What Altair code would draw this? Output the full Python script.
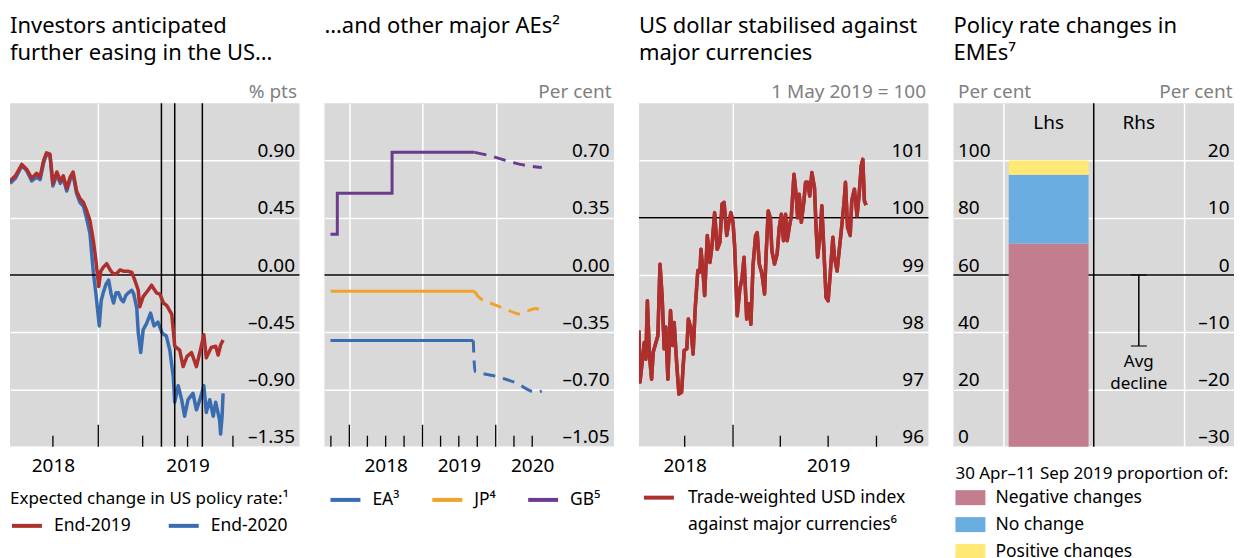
import altair as alt
import pandas as pd

FONT = "Noto Sans"
RED = "#AD2F2E"
BLUE = "#3A6CB2"
ORANGE = "#F0A22C"
PURPLE = "#6C3B8D"
PINK = "#C27D8E"
LBLUE = "#6AADE0"
YELLOW = "#FFE873"
BG = "#D9D9D9"
GREY = "#808080"

# ---------------- Panel 1: expected change in US policy rate ----------------
us19_dates = ["2018-07-06", "2018-07-17", "2018-07-30", "2018-08-09", "2018-08-19", "2018-08-29",
              "2018-09-05", "2018-09-12", "2018-09-18", "2018-09-25", "2018-10-01", "2018-10-09",
              "2018-10-16", "2018-10-22", "2018-10-29", "2018-11-05", "2018-11-11", "2018-11-18",
              "2018-11-25", "2018-12-02", "2018-12-08", "2018-12-15", "2018-12-22", "2018-12-27",
              "2019-01-02", "2019-01-06", "2019-01-11", "2019-01-18", "2019-01-25", "2019-01-31",
              "2019-02-07", "2019-02-14", "2019-02-21", "2019-03-02", "2019-03-10", "2019-03-16",
              "2019-03-23", "2019-03-26", "2019-04-02", "2019-04-12", "2019-04-19", "2019-04-29",
              "2019-05-06", "2019-05-13", "2019-05-20", "2019-05-30", "2019-06-05", "2019-06-15",
              "2019-06-22", "2019-06-30", "2019-07-09", "2019-07-19", "2019-07-27", "2019-08-03",
              "2019-08-08", "2019-08-18", "2019-08-27", "2019-09-01", "2019-09-06", "2019-09-11"]
us19_vals = [0.74, 0.78, 0.87, 0.83, 0.76, 0.80, 0.77, 0.90, 0.96, 0.95, 0.72, 0.81,
             0.74, 0.78, 0.68, 0.77, 0.81, 0.66, 0.60, 0.57, 0.51, 0.43, 0.27, 0.12,
             -0.09, 0.03, 0.06, 0.09, 0.04, 0.01, 0.01, 0.04, 0.03, 0.03, 0.02, -0.04,
             -0.12, -0.25, -0.17, -0.12, -0.08, -0.14, -0.15, -0.22, -0.24, -0.31, -0.56, -0.59,
             -0.72, -0.64, -0.61, -0.72, -0.59, -0.47, -0.65, -0.57, -0.56, -0.63, -0.55, -0.51]

us20_dates = ["2018-07-06", "2018-07-17", "2018-07-30", "2018-08-09", "2018-08-19", "2018-08-29",
              "2018-09-05", "2018-09-12", "2018-09-18", "2018-09-25", "2018-10-01", "2018-10-09",
              "2018-10-16", "2018-10-22", "2018-10-29", "2018-11-05", "2018-11-11", "2018-11-18",
              "2018-11-25", "2018-12-02", "2018-12-08", "2018-12-15", "2018-12-22", "2018-12-27",
              "2018-12-30", "2019-01-03", "2019-01-07", "2019-01-11", "2019-01-17", "2019-01-22",
              "2019-01-27", "2019-02-01", "2019-02-06", "2019-02-11", "2019-02-16", "2019-02-21",
              "2019-02-26", "2019-03-03", "2019-03-10", "2019-03-14", "2019-03-20", "2019-03-23",
              "2019-03-28", "2019-04-02", "2019-04-09", "2019-04-17", "2019-04-24", "2019-05-02",
              "2019-05-11", "2019-05-19", "2019-05-26", "2019-06-02", "2019-06-05", "2019-06-12",
              "2019-06-19", "2019-06-25", "2019-07-02", "2019-07-12", "2019-07-19", "2019-07-26",
              "2019-08-03", "2019-08-08", "2019-08-15", "2019-08-22", "2019-08-27", "2019-09-04",
              "2019-09-06", "2019-09-09", "2019-09-11"]
us20_vals = [0.72, 0.76, 0.86, 0.82, 0.74, 0.77, 0.75, 0.88, 0.95, 0.94, 0.70, 0.79,
             0.72, 0.76, 0.66, 0.75, 0.79, 0.64, 0.57, 0.54, 0.45, 0.33, 0.02, -0.14,
             -0.25, -0.40, -0.20, -0.14, -0.07, -0.04, -0.15, -0.22, -0.14, -0.14, -0.19, -0.21,
             -0.16, -0.14, -0.12, -0.15, -0.26, -0.45, -0.61, -0.43, -0.38, -0.30, -0.40, -0.37,
             -0.46, -0.48, -0.59, -0.80, -1.00, -0.87, -0.98, -1.11, -0.98, -0.93, -1.06, -0.98,
             -0.87, -1.08, -0.98, -1.11, -1.00, -1.14, -1.25, -1.11, -0.93]
us_event_dates = ["2019-05-09", "2019-06-05", "2019-07-31"]
p1_quarter_ticks = ["2018-10-01", "2019-04-01", "2019-07-01", "2019-10-01"]
p1_year_ticks = ["2019-01-01"]

# ---------------- Panel 2: other major AEs ----------------
p2_regions = ["EA³", "JP⁴", "GB⁵"]
ea_dates = ["2017-09-29", "2019-09-11"]
ea_vals = [-0.40, -0.40]
jp_dates = ["2017-09-29", "2019-09-18"]
jp_vals = [-0.10, -0.10]
gb_dates = ["2017-09-29", "2017-11-02", "2018-08-02", "2019-09-18"]
gb_vals = [0.25, 0.50, 0.75, 0.75]
ea_fwd_dates = ["2019-09-11", "2019-09-20", "2019-12-16", "2020-04-10", "2020-07-19", "2020-08-18"]
ea_fwd_vals = [-0.40, -0.59, -0.614, -0.659, -0.716, -0.71]
jp_fwd_dates = ["2019-09-18", "2019-10-10", "2019-12-16", "2020-02-20", "2020-04-27", "2020-07-19", "2020-08-18"]
jp_fwd_vals = [-0.10, -0.137, -0.177, -0.208, -0.238, -0.205, -0.229]
gb_fwd_dates = ["2019-09-18", "2019-12-16", "2020-02-20", "2020-04-27", "2020-08-18"]
gb_fwd_vals = [0.75, 0.725, 0.70, 0.678, 0.658]
p2_quarter_ticks = ["2017-10-01", "2018-04-01", "2018-07-01", "2018-10-01", "2019-04-01",
                    "2019-07-01", "2019-10-01", "2020-04-01", "2020-07-01"]
p2_year_ticks = ["2018-01-01", "2019-01-01", "2020-01-01"]

# ---------------- Panel 3: trade-weighted USD ----------------
usd_name = "Trade-weighted USD index against major currencies⁶"
usd_dates = ["2018-07-06", "2018-07-08", "2018-07-12", "2018-07-16", "2018-07-19", "2018-07-22",
             "2018-07-26", "2018-07-30", "2018-08-02", "2018-08-11", "2018-08-15", "2018-08-19",
             "2018-08-23", "2018-08-26", "2018-08-30", "2018-09-04", "2018-09-08", "2018-09-11",
             "2018-09-16", "2018-09-20", "2018-09-25", "2018-09-30", "2018-10-05", "2018-10-08",
             "2018-10-13", "2018-10-17", "2018-10-21", "2018-10-26", "2018-10-30", "2018-11-01",
             "2018-11-05", "2018-11-08", "2018-11-13", "2018-11-18", "2018-11-22", "2018-11-27",
             "2018-12-02", "2018-12-07", "2018-12-11", "2018-12-15", "2018-12-20", "2018-12-24",
             "2018-12-28", "2019-01-01", "2019-01-04", "2019-01-09", "2019-01-14", "2019-01-18",
             "2019-01-22", "2019-01-27", "2019-01-31", "2019-02-04", "2019-02-08", "2019-02-13",
             "2019-02-16", "2019-02-20", "2019-02-25", "2019-03-02", "2019-03-05", "2019-03-09",
             "2019-03-13", "2019-03-16", "2019-03-21", "2019-03-26", "2019-03-30", "2019-04-03",
             "2019-04-07", "2019-04-11", "2019-04-14", "2019-04-18", "2019-04-22", "2019-04-27",
             "2019-05-01", "2019-05-04", "2019-05-07", "2019-05-11", "2019-05-16", "2019-05-19",
             "2019-05-23", "2019-05-27", "2019-05-31", "2019-06-05", "2019-06-08", "2019-06-11",
             "2019-06-16", "2019-06-19", "2019-06-23", "2019-06-27", "2019-07-01", "2019-07-05",
             "2019-07-10", "2019-07-13", "2019-07-18", "2019-07-22", "2019-07-26", "2019-07-31",
             "2019-08-03", "2019-08-07", "2019-08-12", "2019-08-15", "2019-08-20", "2019-08-25",
             "2019-08-29", "2019-09-02", "2019-09-05", "2019-09-08", "2019-09-11"]
usd_vals = [98.03, 97.13, 97.47, 97.82, 97.53, 98.55, 97.59, 97.18, 97.65, 97.94, 99.19, 98.64,
            97.71, 98.09, 97.18, 98.38, 97.77, 98.17, 97.42, 96.92, 96.95, 97.68, 97.71, 98.23,
            98.06, 97.62, 98.41, 99.08, 99.05, 99.45, 99.04, 98.64, 99.69, 99.22, 99.51, 100.09,
            99.45, 99.57, 100.24, 100.27, 99.69, 99.92, 100.09, 99.92, 99.51, 98.29, 98.76, 98.93,
            99.31, 98.23, 98.50, 98.14, 99.16, 99.69, 99.74, 99.19, 99.02, 98.67, 99.37, 100.12,
            100.00, 99.42, 99.19, 99.37, 99.83, 100.06, 99.60, 100.06, 99.60, 99.83, 100.03, 100.76,
            100.41, 100.00, 100.41, 99.92, 100.30, 100.62, 100.62, 100.38, 100.79, 100.53, 99.83, 99.31,
            99.72, 100.21, 99.42, 98.61, 98.55, 99.02, 99.66, 99.31, 99.07, 99.42, 99.77, 100.24,
            100.62, 99.83, 99.69, 100.30, 100.50, 100.03, 100.41, 100.91, 101.02, 100.30, 100.22]
p3_quarter_ticks = ["2018-10-01", "2019-04-01", "2019-07-01", "2019-10-01"]
p3_year_ticks = ["2019-01-01"]

# ---------------- Panel 4: EME policy rate changes ----------------
eme_kinds = ["Negative changes", "No change", "Positive changes"]
eme_shares = [71, 24, 5]
eme_side = ["Lhs", "Rhs"]
eme_side_slot = [2, 4]
avg_decline = -12.4
avg_label = "Avg\ndecline"

H = 344
DASH_FIX = "replace(replace(datum.label, '\u2212', '\u2013'), '-', '\u2013')"
YEAR_LABEL = "month(datum.value) == 0 ? '' : timeFormat(datum.value, '%Y')"


def dt(y, m, d):
    return alt.DateTime(year=y, month=m, date=d)


def year_axis(values):
    return alt.Axis(values=values, title=None, labelExpr=YEAR_LABEL, grid=True,
                    gridOpacity={"condition": {"test": "month(datum.value) == 0", "value": 1}, "value": 0},
                    labelPadding=19, labelBaseline="middle", labelAlign="center")


def right_axis(values, fmt, title, title_x=-3, grid=True):
    return alt.Axis(orient="right", values=values, format=fmt, labelExpr=DASH_FIX,
                    labelAlign="right", labelPadding=-5, labelBaseline="alphabetic", labelOffset=-4,
                    grid=grid, title=title, titleAngle=0, titleAlign="right",
                    titleBaseline="alphabetic", titleX=title_x, titleY=-6)


def tick_rules(dates, length):
    df = pd.DataFrame({"date": dates})
    return alt.Chart(df).mark_rule(color="black", strokeWidth=1.3).encode(
        x=alt.X("date:T", title=None), y=alt.value(H), y2=alt.value(H - length))


def panel_title(lines):
    return alt.TitleParams(text=lines, anchor="start", frame="group", fontSize=22, lineHeight=27,
                           fontWeight="normal", font=FONT, color="black", offset=17)


# ---- Panel 1 ----
T1 = "% pts"
df19 = pd.DataFrame({"date": us19_dates, "value": us19_vals, "horizon": "End-2019"})
df20 = pd.DataFrame({"date": us20_dates, "value": us20_vals, "horizon": "End-2020"})
p1_color = alt.Color("horizon:N", scale=alt.Scale(domain=["End-2019", "End-2020"], range=[RED, BLUE]),
                     legend=alt.Legend(title="Expected change in US policy rate:¹", orient="none",
                                       legendX=0, legendY=388, direction="horizontal",
                                       symbolType="stroke", symbolStrokeWidth=4, symbolSize=900,
                                       labelOffset=10, columnPadding=30, titlePadding=1))
p1_x = alt.X("date:T", title=None, scale=alt.Scale(domain=[dt(2018, 7, 6), dt(2020, 2, 13)]),
             axis=year_axis([dt(2018, 10, 1), dt(2019, 1, 1), dt(2019, 7, 1)]))
p1_y = alt.Y("value:Q", title=T1, scale=alt.Scale(domain=[-1.35, 1.35], nice=False, zero=False),
             axis=right_axis([-1.35, -0.9, -0.45, 0, 0.45, 0.9], ".2f", T1))
p1_lines_blue = alt.Chart(df20).mark_line(strokeWidth=3.5, clip=True, strokeJoin="round").encode(
    x=p1_x, y=p1_y, color=p1_color)
p1_lines_red = alt.Chart(df19).mark_line(strokeWidth=3.5, clip=True, strokeJoin="round").encode(
    x=alt.X("date:T", title=None), y=alt.Y("value:Q", title=T1), color=alt.Color("horizon:N"))
p1_zero = alt.Chart(pd.DataFrame({"value": [0.0]})).mark_rule(color="black", strokeWidth=1.5).encode(
    y=alt.Y("value:Q", title=T1))
p1_events = alt.Chart(pd.DataFrame({"date": us_event_dates})).mark_rule(color="black", strokeWidth=1.5).encode(
    x=alt.X("date:T", title=None))
p1 = alt.layer(p1_lines_blue, tick_rules(p1_quarter_ticks, 11), tick_rules(p1_year_ticks, 22),
               p1_zero, p1_events, p1_lines_red).properties(
    width=290, height=H, title=panel_title(["Investors anticipated", "further easing in the US…"]))

# ---- Panel 2 ----
T2 = "Per cent"
solid = pd.concat([
    pd.DataFrame({"date": ea_dates, "value": ea_vals, "region": p2_regions[0]}),
    pd.DataFrame({"date": jp_dates, "value": jp_vals, "region": p2_regions[1]}),
    pd.DataFrame({"date": gb_dates, "value": gb_vals, "region": p2_regions[2]}),
])
fwd = pd.concat([
    pd.DataFrame({"date": ea_fwd_dates, "value": ea_fwd_vals, "region": p2_regions[0]}),
    pd.DataFrame({"date": jp_fwd_dates, "value": jp_fwd_vals, "region": p2_regions[1]}),
    pd.DataFrame({"date": gb_fwd_dates, "value": gb_fwd_vals, "region": p2_regions[2]}),
])
p2_color = alt.Color("region:N", scale=alt.Scale(domain=p2_regions, range=[BLUE, ORANGE, PURPLE]),
                     legend=alt.Legend(title=None, orient="none", legendX=4, legendY=380,
                                       direction="horizontal", symbolType="stroke", symbolStrokeWidth=4,
                                       symbolSize=900, labelOffset=10, columnPadding=24))
p2_x = alt.X("date:T", title=None, scale=alt.Scale(domain=[dt(2017, 8, 30), dt(2021, 8, 13)]),
             axis=year_axis([dt(2018, 1, 1), dt(2018, 7, 1), dt(2019, 1, 1), dt(2019, 7, 1),
                             dt(2020, 1, 1), dt(2020, 7, 1)]))
p2_y = alt.Y("value:Q", title=T2, scale=alt.Scale(domain=[-1.05, 1.05], nice=False, zero=False),
             axis=right_axis([-1.05, -0.7, -0.35, 0, 0.35, 0.7], ".2f", T2))
p2_solid = alt.Chart(solid).mark_line(strokeWidth=3, interpolate="step-after").encode(
    x=p2_x, y=p2_y, color=p2_color, detail="region:N")
p2_fwd = alt.Chart(fwd).mark_line(strokeWidth=3, interpolate="monotone", strokeDash=[12, 8]).encode(
    x=alt.X("date:T", title=None), y=alt.Y("value:Q", title=T2), color=alt.Color("region:N"))
p2_zero = alt.Chart(pd.DataFrame({"value": [0.0]})).mark_rule(color="black", strokeWidth=1.5).encode(
    y=alt.Y("value:Q", title=T2))
p2 = alt.layer(p2_solid, tick_rules(p2_quarter_ticks, 11), tick_rules(p2_year_ticks, 22),
               p2_zero, p2_fwd).properties(
    width=290, height=H, title=panel_title(["…and other major AEs²", " "]))

# ---- Panel 3 ----
T3 = "1 May 2019 = 100"
df3 = pd.DataFrame({"date": usd_dates, "value": usd_vals, "index": usd_name})
p3_color = alt.Color("index:N", scale=alt.Scale(domain=[usd_name], range=[RED]),
                     legend=alt.Legend(title=None, orient="none", legendX=3, legendY=378,
                                       symbolType="stroke", symbolStrokeWidth=4, symbolSize=900,
                                       labelOffset=12,
                                       labelExpr="[slice(datum.label, 0, 24), slice(datum.label, 25)]"))
p3_x = alt.X("date:T", title=None, scale=alt.Scale(domain=[dt(2018, 7, 6), dt(2020, 1, 8)]),
             axis=year_axis([dt(2018, 10, 1), dt(2019, 1, 1), dt(2019, 7, 1)]))
p3_y = alt.Y("value:Q", title=T3, scale=alt.Scale(domain=[96, 102], nice=False, zero=False),
             axis=right_axis([96, 97, 98, 99, 100, 101], "d", T3))
p3_line = alt.Chart(df3).mark_line(strokeWidth=3.5, clip=True, strokeJoin="round").encode(
    x=p3_x, y=p3_y, color=p3_color)
p3_base = alt.Chart(pd.DataFrame({"value": [100.0]})).mark_rule(color="black", strokeWidth=1.5).encode(
    y=alt.Y("value:Q", title=T3))
p3 = alt.layer(p3_line, tick_rules(p3_quarter_ticks, 11), tick_rules(p3_year_ticks, 22),
               p3_base, p3_line).properties(
    width=290, height=H, title=panel_title(["US dollar stabilised against", "major currencies"]))

# ---- Panel 4 ----
T4 = "Per cent"
df4 = pd.DataFrame({"kind": eme_kinds, "share": eme_shares, "rank": [0, 1, 2], "slot": eme_side_slot[0]})
p4_xscale = alt.Scale(domain=[0, 6], nice=False, zero=False)
left_axis = alt.Axis(orient="left", values=[0, 20, 40, 60, 80, 100], labelAlign="left", labelPadding=-4,
                     labelBaseline="alphabetic", labelOffset=-4, grid=True, title=T4,
                     titleAngle=0, titleAlign="left", titleBaseline="alphabetic", titleX=4, titleY=-6)
p4_bar = alt.Chart(df4).mark_bar(size=80).encode(
    x=alt.X("slot:Q", title=None, scale=p4_xscale,
            axis=alt.Axis(values=[1, 5], labels=False, grid=True, title=None)),
    y=alt.Y("share:Q", title=T4, stack="zero", scale=alt.Scale(domain=[0, 120], nice=False), axis=left_axis),
    color=alt.Color("kind:N", scale=alt.Scale(domain=eme_kinds, range=[PINK, LBLUE, YELLOW]),
                    legend=alt.Legend(title="30 Apr–11 Sep 2019 proportion of:", orient="none",
                                      legendX=2, legendY=363, direction="vertical",
                                      symbolType="M-1,-0.5H1V0.5H-1Z", symbolSize=900,
                                      symbolStrokeWidth=0, labelOffset=10, rowPadding=3,
                                      titlePadding=0)),
    order=alt.Order("rank:Q"))
p4_hline = alt.Chart(pd.DataFrame({"share": [60]})).mark_rule(color="black", strokeWidth=1.5).encode(
    y=alt.Y("share:Q", title=T4))
p4_vline = alt.Chart(pd.DataFrame({"slot": [3]})).mark_rule(color="black", strokeWidth=1.5).encode(
    x=alt.X("slot:Q", title=None))
p4_side = alt.Chart(pd.DataFrame({"slot": eme_side_slot, "label": eme_side})).mark_text(
    fontSize=19, baseline="middle", font=FONT).encode(
    x=alt.X("slot:Q", title=None), y=alt.value(20), text="label:N")
layer_left = alt.layer(p4_hline, p4_bar, p4_vline, p4_side)

df_err = pd.DataFrame({"slot": [eme_side_slot[1]], "zero": [0.0], "low": [avg_decline], "label": [avg_label]})
right4 = right_axis([-30, -20, -10, 0, 10, 20], "d", T4, title_x=-2, grid=False)
p4_err = alt.Chart(df_err).mark_rule(color="black", strokeWidth=1.5).encode(
    x=alt.X("slot:Q", title=None),
    y=alt.Y("zero:Q", title=T4, scale=alt.Scale(domain=[-30, 30], nice=False), axis=right4),
    y2=alt.Y2("low:Q", title=T4))
p4_cap_low = alt.Chart(df_err).mark_tick(orient="horizontal", size=16, thickness=1.5, color="black").encode(
    x=alt.X("slot:Q", title=None), y=alt.Y("low:Q", title=T4))
p4_cap_top = alt.Chart(df_err).mark_tick(orient="horizontal", size=16, thickness=1.5, color="black").encode(
    x=alt.X("slot:Q", title=None), y=alt.Y("zero:Q", title=T4))
p4_text = alt.Chart(df_err).mark_text(fontSize=17, baseline="top", dy=8, lineBreak="\n", lineHeight=22,
                                      font=FONT).encode(
    x=alt.X("slot:Q", title=None), y=alt.Y("low:Q", title=T4), text="label:N")
layer_right = alt.layer(p4_err, p4_cap_low, p4_cap_top, p4_text)

p4 = alt.layer(layer_left, layer_right).resolve_scale(y="independent").properties(
    width=281, height=H, title=panel_title(["Policy rate changes in", "EMEs⁷"]))

chart = alt.hconcat(p1, p2, p3, p4, spacing=25, bounds="flush").resolve_scale(
    x="independent", y="independent", color="independent"
).properties(
    padding={"left": 1, "top": 7, "right": 0, "bottom": 0}
).configure(
    font=FONT, style={"guide-label": {"lineHeight": 27}}
).configure_view(
    fill=BG, stroke=None
).configure_axis(
    domain=False, ticks=False, tickSize=0, labelFont=FONT, labelFontSize=19, labelColor="black",
    gridColor="white", gridWidth=1.5, labelOverlap=False, labelFlush=False,
    titleFont=FONT, titleFontSize=19, titleFontWeight="normal", titleColor=GREY
).configure_legend(
    padding=0, labelFont=FONT, labelFontSize=17.5, labelColor="black", labelLimit=0,
    titleFont=FONT, titleFontSize=17, titleFontWeight="normal", titleColor="black", titleLimit=0
)

chart.save("out.html", embed_options={"renderer": "svg", "actions": False})
